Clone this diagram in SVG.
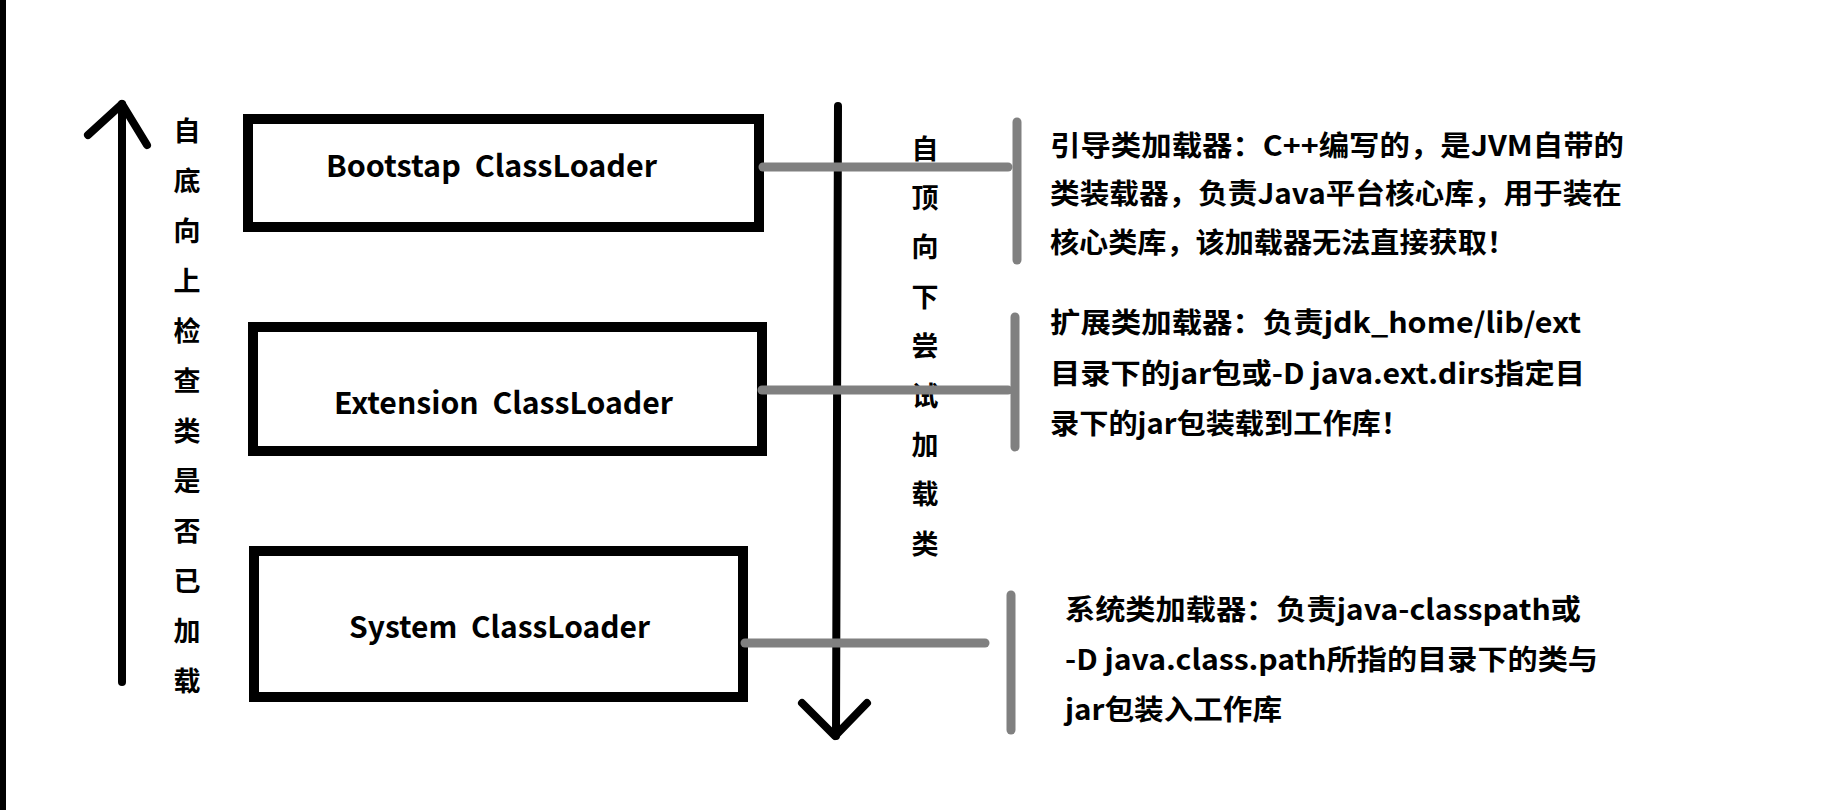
<svg xmlns="http://www.w3.org/2000/svg" width="1840" height="810" viewBox="0 0 1840 810">
<style>
.box{fill:#fff;stroke:#000;stroke-width:10}
.lbl{font-family:"Noto Sans CJK SC","Liberation Sans",sans-serif;font-weight:bold;font-size:30px;fill:#000}
.desc{font-family:"Noto Sans CJK SC","Liberation Sans",sans-serif;font-weight:bold;font-size:28px;fill:#000}
.vt{font-family:"Noto Sans CJK SC",sans-serif;font-weight:bold;font-size:27px;fill:#000;text-anchor:middle;dominant-baseline:central}
.arrow{fill:none;stroke:#000;stroke-width:8;stroke-linecap:round;stroke-linejoin:round}
.conn{fill:none;stroke:#808080;stroke-width:9;stroke-linecap:round}
</style>
<rect x="0" y="0" width="1840" height="810" fill="#fff"/>
<rect x="0" y="0" width="6" height="810" fill="#000"/>

<g id="flow-arrows">
  <g id="up-arrow">
    <line class="arrow" x1="122" y1="682" x2="122" y2="104"/>
    <polyline class="arrow" points="88,135 122,104 147,145"/>
  </g>
  <g id="down-arrow">
    <line class="arrow" x1="838" y1="106" x2="836" y2="736"/>
    <polyline class="arrow" points="802,703 835,736 867,703"/>
  </g>
</g>

<g id="label-bottom-up">
  <text class="vt" x="187" y="129">自</text>
  <text class="vt" x="187" y="179">底</text>
  <text class="vt" x="187" y="229">向</text>
  <text class="vt" x="187" y="279">上</text>
  <text class="vt" x="187" y="329">检</text>
  <text class="vt" x="187" y="379">查</text>
  <text class="vt" x="187" y="429">类</text>
  <text class="vt" x="187" y="479">是</text>
  <text class="vt" x="187" y="529">否</text>
  <text class="vt" x="187" y="579">已</text>
  <text class="vt" x="187" y="629">加</text>
  <text class="vt" x="187" y="679">载</text>
</g>

<g id="label-top-down">
  <text class="vt" x="925" y="147">自</text>
  <text class="vt" x="925" y="196">顶</text>
  <text class="vt" x="925" y="245">向</text>
  <text class="vt" x="925" y="295">下</text>
  <text class="vt" x="925" y="344">尝</text>
  <text class="vt" x="925" y="394">试</text>
  <text class="vt" x="925" y="443">加</text>
  <text class="vt" x="925" y="492">载</text>
  <text class="vt" x="925" y="542">类</text>
</g>

<g id="bootstrap-loader">
  <rect class="box" x="248" y="119" width="511" height="108"/>
  <text class="lbl" x="326" y="177" textLength="331" lengthAdjust="spacingAndGlyphs" xml:space="preserve">Bootstap  ClassLoader</text>
</g>

<g id="extension-loader">
  <rect class="box" x="253" y="327" width="509" height="124"/>
  <text class="lbl" x="334" y="414" textLength="339" lengthAdjust="spacingAndGlyphs" xml:space="preserve">Extension  ClassLoader</text>
</g>

<g id="system-loader">
  <rect class="box" x="254" y="551" width="489" height="146"/>
  <text class="lbl" x="349" y="638" textLength="301" lengthAdjust="spacingAndGlyphs" xml:space="preserve">System  ClassLoader</text>
</g>

<g id="bootstrap-desc">
  <text class="desc" x="1050" y="156" textLength="574" lengthAdjust="spacingAndGlyphs">引导类加载器：C++编写的，是JVM自带的</text>
  <text class="desc" x="1050" y="204" textLength="572" lengthAdjust="spacingAndGlyphs">类装载器，负责Java平台核心库，用于装在</text>
  <text class="desc" x="1050" y="253" textLength="466" lengthAdjust="spacingAndGlyphs">核心类库，该加载器无法直接获取！</text>
</g>

<g id="extension-desc">
  <text class="desc" x="1050" y="333" textLength="531" lengthAdjust="spacingAndGlyphs">扩展类加载器：负责jdk_home/lib/ext</text>
  <text class="desc" x="1050" y="384" textLength="535" lengthAdjust="spacingAndGlyphs">目录下的jar包或-D java.ext.dirs指定目</text>
  <text class="desc" x="1050" y="434" textLength="360" lengthAdjust="spacingAndGlyphs">录下的jar包装载到工作库！</text>
</g>

<g id="system-desc">
  <text class="desc" x="1065" y="620" textLength="516" lengthAdjust="spacingAndGlyphs">系统类加载器：负责java-classpath或</text>
  <text class="desc" x="1065" y="670" textLength="533" lengthAdjust="spacingAndGlyphs">-D java.class.path所指的目录下的类与</text>
  <text class="desc" x="1065" y="720" textLength="217" lengthAdjust="spacingAndGlyphs">jar包装入工作库</text>
</g>

<g id="connectors">
  <line class="conn" x1="763" y1="167" x2="1008" y2="167"/>
  <line class="conn" x1="1017" y1="122" x2="1017" y2="260"/>
  <line class="conn" x1="762" y1="390" x2="1008" y2="390"/>
  <line class="conn" x1="1015" y1="317" x2="1015" y2="447"/>
  <line class="conn" x1="745" y1="643" x2="985" y2="643"/>
  <line class="conn" x1="1011" y1="595" x2="1011" y2="730"/>
</g>
</svg>
